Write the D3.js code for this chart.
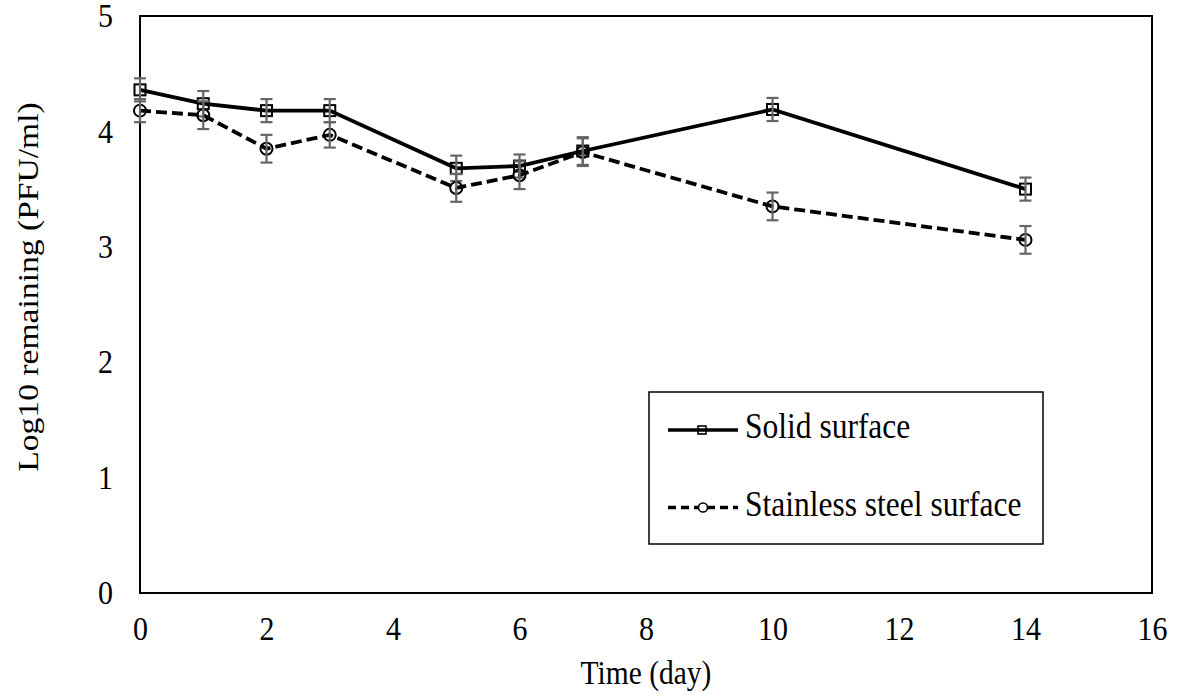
<!DOCTYPE html>
<html>
<head>
<meta charset="utf-8">
<script src="https://cdn.jsdelivr.net/npm/d3@7"></script>
<style>
  body { margin: 0; background: #fff; }
  text { font-family: "Liberation Serif", "Times New Roman", serif; fill: #000; }
</style>
</head>
<body>
<svg id="chart" width="1177" height="698"></svg>
<script>
// --- DATA ---
const days = [0, 1, 2, 3, 5, 6, 7, 10, 14];
const solidValues = [4.36, 4.24, 4.18, 4.18, 3.68, 3.70, 3.83, 4.19, 3.50];
const solidErrors = [0.10, 0.11, 0.10, 0.10, 0.11, 0.10, 0.12, 0.10, 0.10];
const steelValues = [4.18, 4.14, 3.85, 3.97, 3.51, 3.62, 3.82, 3.35, 3.06];
const steelErrors = [0.10, 0.12, 0.12, 0.11, 0.12, 0.12, 0.12, 0.12, 0.12];
const xTicks = [0, 2, 4, 6, 8, 10, 12, 14, 16];
const yTicks = [0, 1, 2, 3, 4, 5];

const series = [
    { name: 'Solid surface', values: solidValues, errors: solidErrors, dash: null, marker: 'square' },
    { name: 'Stainless steel surface', values: steelValues, errors: steelErrors, dash: '11,5', marker: 'circle' }
];

// --- SETUP ---
const svg = d3.select('#chart');
const plot = { left: 140, top: 16, right: 1152, bottom: 593 };
const stretch = 1.12; // text in the reference is a bit taller than wide

const x = d3.scaleLinear().domain([0, 16]).range([plot.left, plot.right]);
const y = d3.scaleLinear().domain([0, 5]).range([plot.bottom, plot.top]);

// frame
svg.append('rect')
    .attr('x', x(0)).attr('y', y(5))
    .attr('width', x(16) - x(0)).attr('height', y(0) - y(5))
    .attr('fill', 'none').attr('stroke', '#000').attr('stroke-width', 2);

// axes (labels only, no tick marks)
const xAxis = svg.append('g')
    .attr('transform', `translate(0,${y(0)})`)
    .call(d3.axisBottom(x).tickValues(xTicks).tickFormat(d3.format('d')).tickSize(0).tickPadding(20.5));
const yAxis = svg.append('g')
    .attr('transform', `translate(${x(0)},0)`)
    .call(d3.axisLeft(y).tickValues(yTicks).tickFormat(d3.format('d')).tickSize(0).tickPadding(27));
[xAxis, yAxis].forEach(a => {
    a.select('.domain').remove();
    a.attr('font-family', null).attr('font-size', null);
    a.selectAll('text')
        .attr('font-size', 30)
        .attr('transform', `scale(1,${stretch})`);
});

svg.append('text')
    .attr('transform', `translate(${(x(0) + x(16)) / 2},684) scale(1,${stretch})`)
    .attr('text-anchor', 'middle').attr('font-size', 29.5)
    .text('Time (day)');
svg.append('text')
    .attr('transform', `translate(38,287) scale(1,${stretch}) rotate(-90)`)
    .attr('text-anchor', 'middle').attr('font-size', 30)
    .text('Log10 remaining (PFU/ml)');

// --- DRAWING ---
const line = d3.line().x(d => x(d.day)).y(d => y(d.v));

function drawMarker(g, type, cx, cy) {
    if (type === 'square') {
        g.append('rect')
            .attr('x', cx - 5.5).attr('y', cy - 5.5)
            .attr('width', 11).attr('height', 11)
            .attr('fill', 'none').attr('stroke', '#000').attr('stroke-width', 2);
    } else {
        g.append('circle')
            .attr('cx', cx).attr('cy', cy).attr('r', 6)
            .attr('fill', 'none').attr('stroke', '#000').attr('stroke-width', 2);
    }
}

series.forEach(s => {
    const pts = days.map((d, i) => ({ day: d, v: s.values[i], e: s.errors[i] }));
    const g = svg.append('g');

    g.append('path')
        .datum(pts)
        .attr('d', line)
        .attr('fill', 'none')
        .attr('stroke', '#000')
        .attr('stroke-width', 3.8)
        .attr('stroke-dasharray', s.dash);

    pts.forEach(p => drawMarker(g, s.marker, x(p.day), y(p.v)));

    // error bars
    const eb = g.append('g').attr('stroke', '#666').attr('stroke-width', 2.2);
    pts.forEach(p => {
        const cx = x(p.day);
        eb.append('line').attr('x1', cx).attr('x2', cx)
            .attr('y1', y(p.v + p.e)).attr('y2', y(p.v - p.e));
        [p.v + p.e, p.v - p.e].forEach(v => {
            eb.append('line').attr('x1', cx - 6).attr('x2', cx + 6)
                .attr('y1', y(v)).attr('y2', y(v));
        });
    });
});

// --- LEGEND ---
const legend = svg.append('g');
legend.append('rect')
    .attr('x', 649).attr('y', 392).attr('width', 394).attr('height', 152)
    .attr('fill', '#fff').attr('stroke', '#000').attr('stroke-width', 1.5);

series.forEach((s, i) => {
    const ly = 430 + i * 77.5;
    legend.append('line')
        .attr('x1', 668).attr('x2', 738).attr('y1', ly).attr('y2', ly)
        .attr('stroke', '#000').attr('stroke-width', 3.6)
        .attr('stroke-dasharray', s.dash ? '8,5' : null);
    if (s.marker === 'square') {
        legend.append('rect').attr('x', 698).attr('y', ly - 4).attr('width', 8).attr('height', 8)
            .attr('fill', 'none').attr('stroke', '#000').attr('stroke-width', 1.6);
    } else {
        legend.append('circle').attr('cx', 703).attr('cy', ly).attr('r', 4.5)
            .attr('fill', '#fff').attr('stroke', '#000').attr('stroke-width', 1.6);
    }
    legend.append('text')
        .attr('transform', `translate(745,${ly + 8}) scale(1,${stretch})`)
        .attr('font-size', 31.5)
        .text(s.name);
});
</script>
</body>
</html>
